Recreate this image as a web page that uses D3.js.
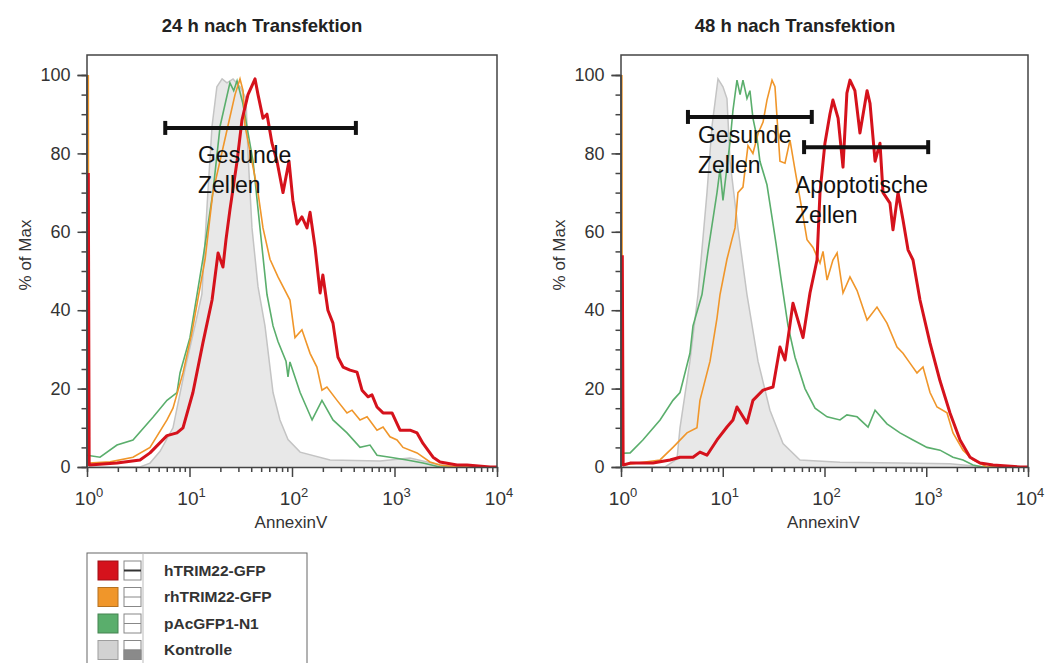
<!DOCTYPE html>
<html lang="de">
<head>
<meta charset="UTF-8">
<title>AnnexinV nach Transfektion</title>
<style>
  body { margin: 0; background: #fff; }
  svg { display: block; font-family: "Liberation Sans", Arial, sans-serif; }
  .title { font-size: 18.5px; font-weight: bold; fill: #222; text-anchor: middle; }
  .axis-label { font-size: 17px; fill: #333; text-anchor: middle; }
  .gate line { stroke: #111; stroke-width: 4; }
  .gate-label { font-size: 23px; fill: #111; }
  .legend text { font-size: 15.5px; font-weight: bold; fill: #333; }
</style>
</head>
<body>
<svg width="1046" height="663"></svg>
<script src="https://d3js.org/d3.v7.min.js"></script>
<script>
// legend categories (drawn top to bottom)
const categories = ["hTRIM22-GFP", "rhTRIM22-GFP", "pAcGFP1-N1", "Kontrolle"];

// [AnnexinV, % of Max]
const kontrolle_24h = [[1,0],[3.29,0],[4.12,1],[5.16,4],[6.9,10],[9.04,25],[11.3,36],[13.2,44],[14.2,58],[15.1,70],[16.6,87],[18.5,97],[20.8,99],[23.2,98],[26.6,99],[31.1,97],[35.6,94],[37.2,80],[40.7,61],[46.6,46],[54.5,36],[65.3,19],[76.3,12],[91.4,7],[120,3.8],[235,1.8],[722,1.5],[1416,2.3],[2780,0.5],[4355,0],[10000,0]];
const pAcGFP_24h = [[1,3],[1.34,2.5],[1.96,5.6],[2.81,6.9],[4.4,12.7],[6.03,17],[7.55,19],[8.08,24],[10.1,33],[13.5,53],[16.9,70],[19.9,87],[24.8,98],[27,96],[29.1,98.5],[33,93],[41.7,78],[48.7,61],[57,44],[65.3,36],[73,32],[87.4,27],[91.4,23],[95.5,26.8],[120,19],[157,12],[196,17],[251,12],[344,8.7],[461,5],[577,5.6],[675,3],[904,2.5],[1325,1.8],[1897,1],[2780,0],[10000,0]];
const rhTRIM22_24h = [[1.03,100],[1.04,1],[1.68,1.3],[2.81,2.5],[4.12,5],[6.03,12],[6.9,15],[8.64,24],[10.5,34],[14.2,53],[16.9,70],[23.7,87],[27.8,95],[31.1,99],[33.3,96],[34.8,87],[46.6,70],[52.1,61],[61,53],[73,48.5],[95.5,42.6],[107,33],[125,35],[150,29],[175,25.5],[196,19.6],[219,20.4],[275,17],[344,13.8],[385,14.5],[461,12],[540,12.8],[675,9.4],[773,10.2],[904,7.7],[1058,6.9],[1211,5],[1660,3.6],[2220,1.3],[2780,0.5],[4074,0],[10000,0]];
const hTRIM22_24h = [[1.03,75],[1.05,0.5],[1.96,1],[3.29,1.8],[4.12,3.6],[6.03,8],[7.55,8.7],[8.64,10],[10.8,19],[13.5,31.6],[16.6,42.6],[19,54.6],[21.2,51],[22.7,58],[24.8,65.6],[29.1,78],[32.5,88.5],[37.2,95],[43.6,99],[46.6,95],[52.1,89],[57,90],[63.8,82.6],[71.4,78],[81.7,70],[93.5,78],[102,68],[112,62],[125,63.8],[140,61],[150,65],[168,56],[188,44.4],[200,49],[224,40],[251,36.7],[281,28],[315,25.5],[368,24.7],[431,24.2],[482,19.6],[551,17.9],[603,18.4],[675,15.3],[773,13.8],[946,13.8],[1132,9.4],[1416,9.4],[1660,8.7],[1897,6],[2376,2.5],[2780,1.3],[4074,0.5],[5093,0.5],[8550,0],[10000,0]];

const kontrolle_48h = [[1,0],[2.71,0],[3.55,2],[3.8,10],[4.76,27],[5.71,44],[7.0,70],[7.84,87],[8.98,99],[10.05,97],[11.0,94],[11.8,78],[14.1,61],[17.3,44],[22.2,27],[29.1,14.5],[39.1,6],[57.4,1.8],[142,1.2],[552,1],[1711,0.8],[3779,0],[10000,0]];
const pAcGFP_48h = [[1,3],[1.05,3.5],[1.23,3.6],[1.64,6.9],[2.42,12],[3.24,17],[3.8,19],[4.07,22],[4.76,29],[5.1,36],[6.25,44],[7.16,55],[8.78,70],[9.4,76],[10.05,68],[11.8,83],[12.6,91],[13.8,98.7],[14.8,95],[15.8,98.7],[17.3,94],[18.5,96],[19.8,89],[21.7,84],[23.2,78],[27.2,72],[31.2,62],[33.4,57],[37.4,48],[43.8,36],[51.3,28],[64.3,20],[80.7,15],[106,12.8],[142,12],[166,13.3],[209,12.8],[268,10.2],[314,14.5],[411,11],[552,8.7],[741,6.9],[1017,5],[1365,4.3],[1832,2.5],[2298,1.8],[2880,0.5],[3610,0],[10000,0]];
const rhTRIM22_48h = [[1.02,100],[1.03,0.5],[2.42,1.8],[3.24,5],[4.45,8.7],[5.58,10],[5.97,17],[7.5,27],[8.78,38],[9.4,44],[11.0,53],[12.3,58],[13.2,61],[14.1,70],[15.8,71.4],[17.7,82],[19.8,80],[22.2,85],[24.9,88],[27.2,93.6],[30.5,98.7],[32.6,97],[36.5,78],[40.9,77.5],[45.8,83.4],[51.3,75.8],[60.1,65.6],[67.3,58],[77.1,56],[90.3,52],[96.7,55],[106,47.7],[121,52.8],[133,54.6],[152,44.4],[178,48.5],[209,45],[262,37.5],[328,40.8],[411,36.7],[516,30.6],[591,29],[692,26.5],[811,24],[929,25.5],[1089,19],[1276,15.3],[1600,13.8],[1832,8.7],[2298,4.3],[2880,1.8],[3954,0],[10000,0]];
const hTRIM22_48h = [[1.03,54],[1.05,0.5],[1.23,1],[2.06,1],[3.03,1.8],[3.8,2.5],[5.1,2.5],[5.97,3.8],[7.0,3],[8.78,6.9],[11.0,10.2],[12.6,12],[13.8,15.3],[17.3,11.2],[19.8,17],[24.9,19.6],[31.2,20.4],[36.5,30.6],[40.9,27.3],[49,41.8],[61.5,33],[72,44.4],[84.4,52.8],[90.3,70],[101,82.6],[113,90],[121,93.6],[136,89],[152,76.5],[166,95.4],[178,98.7],[199,96],[223,85.2],[262,96],[280,92.8],[314,78],[351,82.6],[376,70],[440,67.3],[471,60.5],[528,70],[591,63],[662,55.4],[741,52.8],[868,42.6],[1089,31.6],[1365,22],[1711,13.8],[2148,6.9],[2692,2.5],[3375,1],[4531,0.5],[8340,0],[10000,0]];

// gates: AnnexinV range and height (% of Max)
const gates_24h = [[5.8, 420, 86.5]];
const gates_48h = [[4.55, 75, 89.3], [63, 1045, 81.6]];
const gateNames_24h = [["Gesunde", "Zellen"]];
const gateNames_48h = [["Gesunde", "Zellen"], ["Apoptotische", "Zellen"]];
// label anchor (AnnexinV, % of Max) for each gate label
const gateLabelAt_24h = [[12.1, 77.6]];
const gateLabelAt_48h = [[5.71, 82.7], [51.3, 69.9]];

const yTicks = [0, 20, 40, 60, 80, 100];
const xDecades = [0, 1, 2, 3, 4];

const colors = ["#d5121c", "#f0962a", "#5aae6c", "#d2d2d2"];

const svg = d3.select("svg");
const plotTop = 55, plotBottom = 467;

function drawPanel(p) {
  const x = d3.scaleLog().domain([1, 10000]).range([p.left, p.right]);
  const y = d3.scaleLinear().domain([0, 100]).range([plotBottom, 75]);

  svg.append("clipPath").attr("id", "clip-" + p.id)
    .append("rect")
    .attr("x", p.left).attr("y", plotTop)
    .attr("width", p.right - p.left).attr("height", plotBottom - plotTop);

  const plot = svg.append("g").attr("clip-path", `url(#clip-${p.id})`);
  const line = d3.line().x(d => x(d[0])).y(d => y(d[1]));
  const area = d3.area().x(d => x(d[0])).y0(y(0)).y1(d => y(d[1]));

  // frame (top and right) under the curves
  svg.append("path")
    .attr("d", `M${p.left},${plotBottom}V${plotTop}H${p.right}V${plotBottom}`)
    .attr("fill", "none").attr("stroke", "#444").attr("stroke-width", 1.5);

  plot.append("path").datum(p.kontrolle).attr("d", area).attr("fill", "#e8e8e8");
  plot.append("path").datum(p.kontrolle).attr("d", line)
    .attr("fill", "none").attr("stroke", "#c4c4c4").attr("stroke-width", 1.5);
  plot.append("path").datum(p.green).attr("d", line)
    .attr("fill", "none").attr("stroke", colors[2]).attr("stroke-width", 1.6);
  plot.append("path").datum(p.orange).attr("d", line)
    .attr("fill", "none").attr("stroke", colors[1]).attr("stroke-width", 1.6);
  plot.append("path").datum(p.red).attr("d", line)
    .attr("fill", "none").attr("stroke", colors[0]).attr("stroke-width", 3)
    .attr("stroke-linejoin", "round");

  // y axis: minor ticks every 5, major every 20
  svg.append("g").attr("transform", `translate(${p.left - 0.5},0)`)
    .call(d3.axisLeft(y).tickValues(d3.range(0, 101, 5)).tickSize(5).tickFormat(""))
    .call(g => g.select(".domain").remove())
    .call(g => g.selectAll("line").attr("stroke", "#444").attr("stroke-width", 1.5));
  svg.append("g").attr("transform", `translate(${p.left - 0.5},0)`)
    .call(d3.axisLeft(y).tickValues(yTicks).tickSize(9).tickPadding(7))
    .call(g => g.select(".domain").attr("stroke", "#444").attr("stroke-width", 1.5))
    .call(g => g.selectAll("line").attr("stroke", "#444").attr("stroke-width", 1.5))
    .call(g => g.selectAll("text").attr("font-size", 18).attr("fill", "#333")
      .attr("font-family", "Liberation Sans, Arial, sans-serif"));

  // x axis: log minor ticks + decades
  const minor = [];
  xDecades.slice(0, -1).forEach(e => d3.range(2, 10).forEach(m => minor.push(m * Math.pow(10, e))));
  svg.append("g").attr("transform", `translate(0,${plotBottom})`)
    .call(d3.axisBottom(x).tickValues(minor).tickSize(5).tickFormat(""))
    .call(g => g.select(".domain").attr("stroke", "#444").attr("stroke-width", 1.5))
    .call(g => g.selectAll("line").attr("stroke", "#444").attr("stroke-width", 1.5));
  svg.append("g").attr("transform", `translate(0,${plotBottom})`)
    .call(d3.axisBottom(x).tickValues(xDecades.map(e => Math.pow(10, e))).tickSize(10).tickFormat(""))
    .call(g => g.select(".domain").remove())
    .call(g => g.selectAll("line").attr("stroke", "#444").attr("stroke-width", 1.5));

  const xl = svg.append("g").selectAll("text").data(xDecades).join("text")
    .attr("x", e => x(Math.pow(10, e)) + 2).attr("y", 505)
    .attr("text-anchor", "middle").attr("fill", "#333").attr("font-size", 19);
  xl.append("tspan").text("10");
  xl.append("tspan").attr("dy", -8).attr("font-size", 13).text(e => e);

  // axis titles
  svg.append("text").attr("class", "axis-label")
    .attr("x", (p.left + p.right) / 2 - 1).attr("y", 528).text("AnnexinV");
  svg.append("text").attr("class", "axis-label")
    .attr("transform", `translate(${p.left - 56},255) rotate(-90)`).text("% of Max");

  svg.append("text").attr("class", "title")
    .attr("x", p.titleX).attr("y", 32).text(p.title);

  // gates
  const gates = svg.append("g").attr("class", "gate").selectAll("g").data(p.gates).join("g");
  gates.append("line")
    .attr("x1", d => x(d[0])).attr("x2", d => x(d[1]))
    .attr("y1", d => y(d[2])).attr("y2", d => y(d[2]));
  gates.append("line")
    .attr("x1", d => x(d[0])).attr("x2", d => x(d[0]))
    .attr("y1", d => y(d[2]) - 7).attr("y2", d => y(d[2]) + 7);
  gates.append("line")
    .attr("x1", d => x(d[1])).attr("x2", d => x(d[1]))
    .attr("y1", d => y(d[2]) - 7).attr("y2", d => y(d[2]) + 7);

  p.names.forEach((lines, i) => {
    const at = p.labelAt[i];
    const t = svg.append("text").attr("class", "gate-label")
      .attr("x", x(at[0])).attr("y", y(at[1]));
    lines.forEach((s, j) => t.append("tspan")
      .attr("x", x(at[0])).attr("dy", j ? 30 : 0).text(s));
  });
}

drawPanel({
  id: "h24", title: "24 h nach Transfektion", titleX: 262, left: 87, right: 497,
  kontrolle: kontrolle_24h, green: pAcGFP_24h, orange: rhTRIM22_24h, red: hTRIM22_24h,
  gates: gates_24h, names: gateNames_24h, labelAt: gateLabelAt_24h
});
drawPanel({
  id: "h48", title: "48 h nach Transfektion", titleX: 795, left: 621, right: 1028,
  kontrolle: kontrolle_48h, green: pAcGFP_48h, orange: rhTRIM22_48h, red: hTRIM22_48h,
  gates: gates_48h, names: gateNames_48h, labelAt: gateLabelAt_48h
});

// legend
const legend = svg.append("g").attr("class", "legend");
legend.append("rect").attr("x", 87).attr("y", 553).attr("width", 220).attr("height", 130)
  .attr("fill", "#fff").attr("stroke", "#666").attr("stroke-width", 1);
legend.append("line").attr("x1", 143).attr("x2", 143).attr("y1", 553).attr("y2", 663)
  .attr("stroke", "#bbb");
const rows = legend.selectAll("g.row").data(categories).join("g")
  .attr("class", "row")
  .attr("transform", (d, i) => `translate(0,${561 + i * 26.5})`);
rows.append("rect").attr("x", 98).attr("y", 0).attr("width", 20).attr("height", 19)
  .attr("fill", (d, i) => colors[i])
  .attr("stroke", (d, i) => d3.color(colors[i]).darker(0.8)).attr("stroke-width", 1);
rows.append("rect").attr("x", 124).attr("y", 0).attr("width", 17).attr("height", 19)
  .attr("fill", "#fff").attr("stroke", "#888");
rows.filter((d, i) => i === 3).append("rect")
  .attr("x", 124).attr("y", 9.5).attr("width", 17).attr("height", 9.5)
  .attr("fill", "#8a8a8a").attr("stroke", "#888");
rows.append("line").attr("x1", 124).attr("x2", 141).attr("y1", 9.5).attr("y2", 9.5)
  .attr("stroke", (d, i) => i === 0 ? "#333" : "#888").attr("stroke-width", (d, i) => i === 0 ? 2 : 1);
rows.append("text").attr("x", 164).attr("y", 14.5).text(d => d);
</script>
</body>
</html>
